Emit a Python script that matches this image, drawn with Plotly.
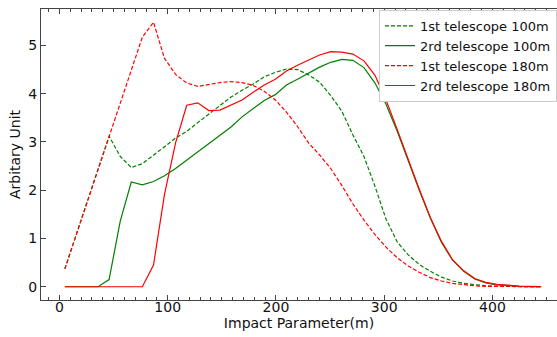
import plotly.graph_objects as go

impact = [5.0, 15.2, 25.5, 35.7, 45.9, 56.2, 66.4, 76.6, 86.9, 97.1,
          107.3, 117.6, 127.8, 138.0, 148.3, 158.5, 168.7, 179.0, 189.2, 199.4,
          209.7, 219.9, 230.1, 240.3, 250.6, 260.8, 271.0, 281.3, 291.5, 301.7,
          312.0, 322.2, 332.4, 342.7, 352.9, 363.1, 373.4, 383.6, 393.8, 404.1,
          414.3, 424.5, 434.8, 445.0]

first_100 = [0.37, 1.05, 1.74, 2.42, 3.12, 2.70, 2.47, 2.55, 2.72, 2.90,
             3.08, 3.22, 3.40, 3.57, 3.75, 3.93, 4.07, 4.20, 4.35, 4.44,
             4.51, 4.50, 4.39, 4.24, 3.96, 3.64, 3.15, 2.70, 2.08, 1.40,
             0.93, 0.66, 0.46, 0.32, 0.20, 0.12, 0.07, 0.04, 0.02, 0.01,
             0.005, 0.003, 0.001, 0.0]

second_100 = [0.0, 0.0, 0.0, 0.0, 0.15, 1.36, 2.17, 2.11, 2.18, 2.30,
              2.45, 2.62, 2.79, 2.96, 3.14, 3.31, 3.52, 3.70, 3.86, 3.98,
              4.18, 4.30, 4.43, 4.55, 4.65, 4.71, 4.69, 4.54, 4.22, 3.78,
              3.22, 2.60, 2.00, 1.42, 0.92, 0.55, 0.32, 0.16, 0.08, 0.04,
              0.02, 0.01, 0.005, 0.003]

first_180 = [0.37, 1.05, 1.74, 2.42, 3.10, 3.79, 4.47, 5.17, 5.48, 4.73,
             4.40, 4.22, 4.15, 4.19, 4.23, 4.25, 4.23, 4.17, 4.05, 3.87,
             3.62, 3.32, 2.98, 2.73, 2.45, 2.10, 1.72, 1.38, 1.08, 0.82,
             0.60, 0.43, 0.30, 0.19, 0.12, 0.07, 0.04, 0.02, 0.01, 0.005,
             0.002, 0.001, 0.0, 0.0]

second_180 = [0.0, 0.0, 0.0, 0.0, 0.0, 0.0, 0.0, 0.0, 0.45, 1.92,
              2.98, 3.76, 3.81, 3.65, 3.66, 3.76, 3.87, 4.03, 4.18, 4.30,
              4.47, 4.59, 4.70, 4.80, 4.87, 4.86, 4.82, 4.68, 4.38, 3.87,
              3.26, 2.63, 2.02, 1.43, 0.94, 0.56, 0.33, 0.17, 0.09, 0.05,
              0.03, 0.015, 0.008, 0.004]

x_ticks = [0, 100, 200, 300, 400]
y_ticks = [0, 1, 2, 3, 4, 5]

series = [
    ("1st telescope 100m", first_100, "#008000", "4px,2px"),
    ("2rd telescope 100m", second_100, "#008000", "solid"),
    ("1st telescope 180m", first_180, "#ff0000", "4px,2px"),
    ("2rd telescope 180m", second_180, "#ff0000", "solid"),
]

FONT = "DejaVu Sans"
fig = go.Figure()
for name, ys, color, dash in series:
    fig.add_trace(go.Scatter(
        x=impact, y=ys, mode="lines", name=name,
        line=dict(color=color, width=1.2, dash=dash),
    ))

axis_line = "#444444"
fig.update_layout(
    width=557, height=337,
    margin=dict(l=41, r=0, t=9, b=37),
    paper_bgcolor="white", plot_bgcolor="white",
    font=dict(family=FONT, size=14, color="#111111"),
    showlegend=True,
    legend=dict(
        x=1.0, y=0.997, xanchor="right", yanchor="top",
        bgcolor="white", bordercolor="#cccccc", borderwidth=1,
        font=dict(family=FONT, size=13, color="#111111"),
        itemwidth=30, tracegroupgap=0,
        entrywidth=123, entrywidthmode="pixels",
    ),
    xaxis=dict(
        range=[-17, 459.6], showgrid=False, zeroline=False,
        showline=True, linecolor=axis_line, linewidth=1.2, mirror="ticks",
        ticks="inside", ticklen=5, tickwidth=1, tickcolor=axis_line,
        tickmode="array", tickvals=x_ticks,
        ticktext=[str(v) for v in x_ticks],
        minor=dict(dtick=10, tick0=0, ticks="inside", ticklen=2.5,
                   tickwidth=1, tickcolor=axis_line, showgrid=False),
        ticklabelstandoff=-6,
        title=dict(text="Impact Parameter(m)", standoff=2,
                   font=dict(family=FONT, size=14)),
        tickfont=dict(family=FONT, size=14),
    ),
    yaxis=dict(
        range=[-0.274, 5.754], showgrid=False, zeroline=False,
        showline=True, linecolor=axis_line, linewidth=1.2,
        ticks="inside", ticklen=5, tickwidth=1, tickcolor=axis_line,
        tickmode="array", tickvals=y_ticks,
        ticktext=[str(v) for v in y_ticks],
        title=dict(text="Arbitary Unit", standoff=4,
                   font=dict(family=FONT, size=14)),
        tickfont=dict(family=FONT, size=14),
    ),
)

fig.write_html("out.html")
